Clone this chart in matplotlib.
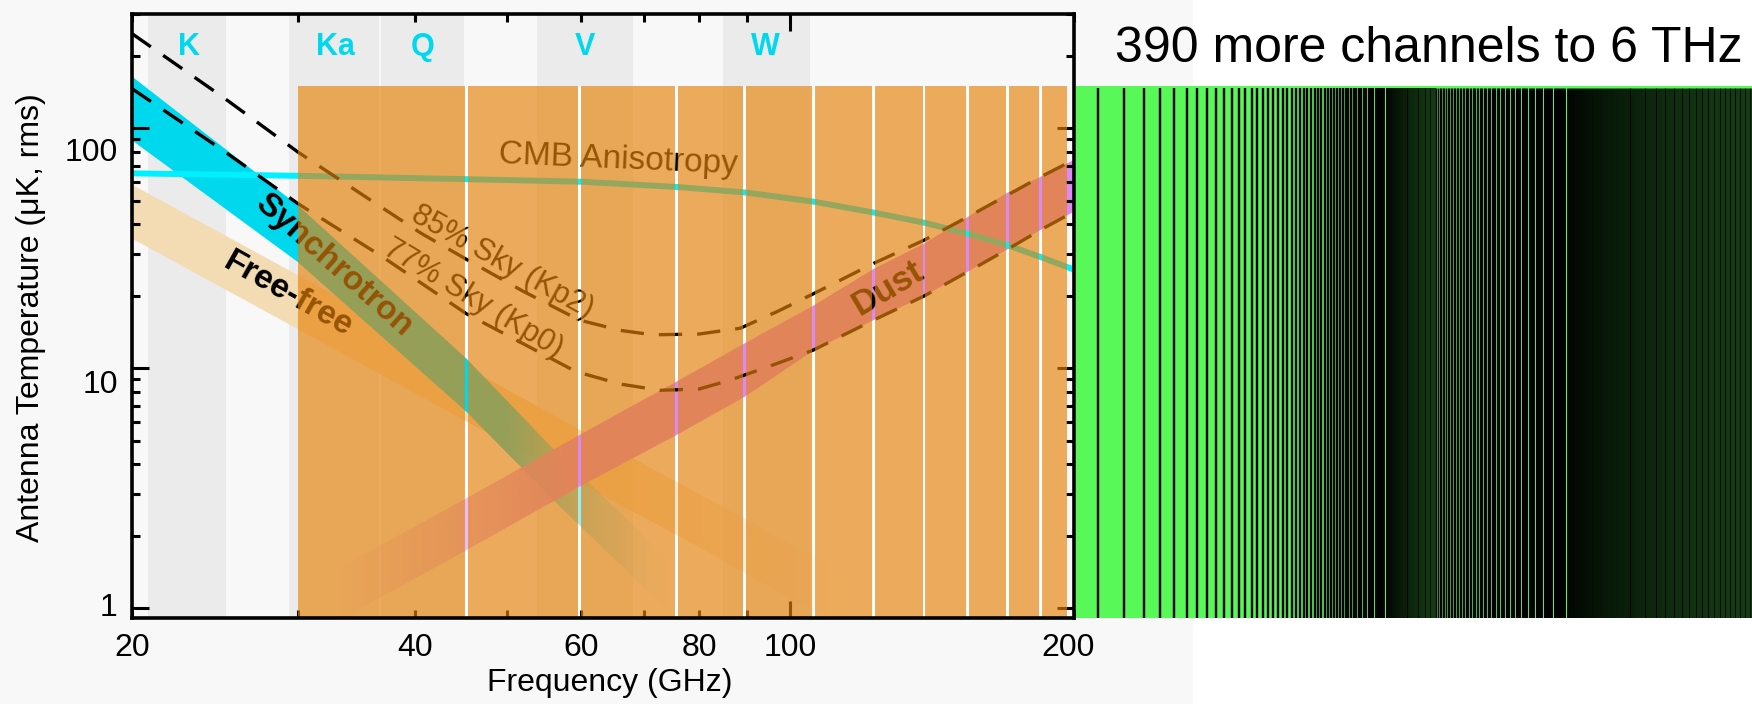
import numpy as np
import matplotlib
matplotlib.use("Agg")
import matplotlib.pyplot as plt
from matplotlib.patches import Polygon, Rectangle
from matplotlib.transforms import offset_copy
from matplotlib.ticker import LogLocator, NullFormatter
from matplotlib.colors import to_rgb

plt.rcParams['font.family'] = ['Liberation Sans', 'DejaVu Sans']

# ------------------------------------------------------------------ data
# WMAP bands (GHz)
band_names = ["K", "Ka", "Q", "V", "W"]
band_lo = [20.8, 29.4, 36.8, 53.9, 84.9]
band_hi = [25.2, 36.6, 45.1, 68.0, 104.9]
band_label_f = [23.0, 32.9, 40.7, 60.5, 94.1]
band_label_t = 219

# CMB anisotropy, antenna temperature (uK)
cmb_f = [20, 30, 45, 60, 76, 90, 106, 123, 139, 154, 170, 184, 200]
cmb_t = [65, 63.5, 61.5, 60, 57, 54, 49.5, 44.5, 40.4, 36.5, 32.6, 29.2, 25.8]

# foreground bands (upper / lower edge)
sync_f = [20, 30, 45.3, 56.7, 67.5, 78]
sync_hi = [165, 47.9, 11.0, 4.4, 2.3, 1.3]
sync_lo = [89.4, 27.8, 6.6, 2.7, 1.4, 0.8]

ff_f = [20, 30, 45, 60, 80, 100, 115]
ff_hi = [58.4, 24.5, 10.3, 5.5, 3.0, 1.85, 1.4]
ff_lo = [34.8, 14.6, 6.1, 3.3, 1.8, 1.1, 0.83]

dust_f = [33, 45, 59.7, 75.7, 89.4, 105.9, 122.6, 138.6, 154.3, 169.9, 184.2, 200]
dust_hi = [1.45, 2.83, 5.27, 8.8, 12.7, 18.3, 26.0, 33.1, 42.8, 53.9, 62.8, 74]
dust_lo = [0.88, 1.72, 3.21, 5.27, 7.6, 11.9, 15.9, 20.0, 25.3, 31.3, 37.7, 45]

# total foregrounds, sky cuts
kp2_f = [20, 25, 30, 35, 40.6, 45.3, 52, 59.7, 66, 71.4, 80, 88.5, 97, 105.9,
         122.6, 138.6, 154.3, 169.9, 184.4, 200]
kp2_t = [249, 135, 79.9, 53.5, 36.5, 28.5, 21.0, 15.9, 14.4, 13.8, 13.9, 14.7, 17.3, 20.5,
         27.4, 34.2, 42.8, 52.7, 62.9, 74]
kp0_f = [20, 25, 30, 36.9, 45.3, 52, 59.2, 66, 72.7, 80, 86.1, 95, 105.7,
         122.6, 138.6, 154.3, 169.9, 184.2, 200]
kp0_t = [146.8, 81, 48.7, 29.2, 16.9, 12.7, 9.7, 8.6, 8.1, 8.2, 8.9, 10.2, 11.9,
         15.9, 20.0, 25.3, 31.3, 37.7, 45]

# orange channel edges (GHz)
chan_edges = [30.0, 45.3, 59.7, 75.7, 89.4, 105.9, 122.6, 138.6, 154.3, 169.9, 184.4, 196.8]
chan_top = 150

# the extra channels up to 6 THz, 15 GHz wide
extra_first, extra_last, extra_step = 210, 6000, 15
extra_chan = np.arange(extra_first, extra_last + 1, extra_step)

xt_vals = [20, 40, 60, 80, 100, 200]
yt_vals = [1, 10, 100]

XLIM = (20, 200)
YLIM = (0.908, 300)

# colours
BG_GRAY = '#f8f8f8'
BAND_GRAY = '#ebebeb'
LABEL_CYAN = '#00d8f0'
CMB_CYAN = '#00f0ff'
SYNC_C = '#00d8ee'
DUST_C = '#d88cf2'
FF_C = '#f3dcb4'
ORANGE = '#e78108'
GREEN = '#58f858'

DPI = 100
fig = plt.figure(figsize=(17.52, 7.04), dpi=DPI, facecolor='white')
fig.add_artist(Rectangle((0, 0), 1193 / 1752, 1, transform=fig.transFigure,
                         facecolor=BG_GRAY, edgecolor='none', zorder=-10))

ax = fig.add_axes([0.07517, 0.12173, 0.53784, 0.85838])
ax.set_facecolor(BG_GRAY)
ax.set_xscale('log')
ax.set_yscale('log')


def faded_band(f, lo, hi, color, a_zero, a_one, z, power=1.0):
    """band polygon filled with a colour whose alpha ramps along frequency"""
    f = np.asarray(f, float)
    verts = np.column_stack([np.r_[f, f[::-1]], np.r_[hi, lo[::-1]]])
    poly = Polygon(verts, closed=True, fc='none', ec='none', transform=ax.transData)
    ax.add_patch(poly)
    n = 600
    cols = np.linspace(f[0], f[-1], n)
    t = (np.log(cols) - np.log(a_zero)) / (np.log(a_one) - np.log(a_zero))
    rgba = np.zeros((1, n, 4))
    rgba[..., :3] = to_rgb(color)
    rgba[..., 3] = np.clip(t, 0, 1) ** power
    im = ax.imshow(rgba, extent=(f[0], f[-1], min(lo), max(hi)), aspect='auto',
                   interpolation='bilinear', origin='lower', zorder=z)
    im.set_clip_path(poly)


# WMAP bands
for lo, hi in zip(band_lo, band_hi):
    ax.axvspan(lo, hi, color=BAND_GRAY, lw=0, zorder=0.5)
for name, f in zip(band_names, band_label_f):
    ax.text(f, band_label_t, name, color=LABEL_CYAN, fontsize=22, fontweight='bold',
            ha='center', va='center', zorder=2)

# white gaps between channels
ax.vlines(chan_edges[1:-1], YLIM[0], chan_top, color='white', lw=2.2, zorder=0.9)

faded_band(ff_f, ff_lo, ff_hi, FF_C, 115, 62, 1.0)
faded_band(sync_f, sync_lo, sync_hi, SYNC_C, 76, 50, 1.1, power=1.6)
faded_band(dust_f, dust_lo, dust_hi, DUST_C, 33, 58, 1.2)

ax.plot(cmb_f, cmb_t, color=CMB_CYAN, lw=4.3, zorder=1.5, solid_capstyle='butt')
ax.plot(kp2_f, kp2_t, color='black', lw=2.4, ls=(0, (7, 4.5)), zorder=1.6)
ax.plot(kp0_f, kp0_t, color='black', lw=2.4, ls=(0, (7, 4.5)), zorder=1.6)

kw = dict(ha='center', va='center', rotation_mode='anchor', zorder=2)
ax.text(65.7, 73.8, "CMB Anisotropy", rotation=-2.5, fontsize=24, **kw)
ax.text(49.5, 27.8, "85% Sky (Kp2)", rotation=-29, fontsize=22, **kw)
ax.text(46.1, 19.6, "77% Sky (Kp0)", rotation=-31, fontsize=22, **kw)
ax.text(32.8, 26.9, "Synchrotron", rotation=-41.5, fontsize=24, fontweight='bold', **kw)
ax.text(29.3, 20.3, "Free-free", rotation=-29.4, fontsize=24, fontweight='bold', **kw)
ax.text(126.8, 21.5, "Dust", rotation=30.7, fontsize=25, fontweight='bold', **kw)

ax.set_xlim(*XLIM)
ax.set_ylim(*YLIM)

# orange channels laid over everything, leaving thin gaps
ax_px = 0.53784 * 1752
g = 10 ** (1.4 * np.log10(XLIM[1] / XLIM[0]) / ax_px)
n_ch = len(chan_edges) - 1
for i in range(n_ch):
    lo = chan_edges[i] * (g if i > 0 else 1)
    hi = chan_edges[i + 1] / (g if i < n_ch - 1 else 1)
    ax.fill_between([lo, hi], YLIM[0], chan_top, color=ORANGE, alpha=0.65, lw=0, zorder=3)

# ticks
for axis in (ax.xaxis, ax.yaxis):
    axis.set_major_locator(LogLocator(base=10))
    axis.set_minor_locator(LogLocator(base=10, subs=np.arange(2, 10)))
    axis.set_major_formatter(NullFormatter())
    axis.set_minor_formatter(NullFormatter())
ax.tick_params(which='both', direction='in', top=True, right=True, width=2.2, color='black')
ax.tick_params(which='major', length=12.5)
ax.tick_params(which='minor', length=6)
for sp in ax.spines.values():
    sp.set_linewidth(2.6)
    sp.set_zorder(4)

for v in xt_vals:
    dx = -6 if v == 200 else 0
    tr = offset_copy(ax.get_xaxis_transform(), fig=fig, x=dx, y=-30, units='dots')
    ax.text(v, 0, str(v), transform=tr, ha='center', va='center', fontsize=23)
y_shift = {1: 0, 10: -17, 100: -25}
for v in yt_vals:
    tr = offset_copy(ax.get_yaxis_transform(), fig=fig, x=-14, y=y_shift[v], units='dots')
    ax.text(0, v, str(v), transform=tr, ha='right', va='center', fontsize=23)

ax.text(0.5076, -0.107, "Frequency (GHz)", transform=ax.transAxes, ha='center',
        va='center', fontsize=23)
ax.text(-0.1069, 0.497, "Antenna Temperature (\u03bcK, rms)", transform=ax.transAxes,
        ha='center', va='center', rotation=90, fontsize=23)

# ------------------------------------------------- the extra 390 channels
SC_C, SC_W, SC_LIN = 165.0, 45.0, 0.000199


def fwd(f):
    f = np.asarray(f, float)
    return np.log10(np.maximum(f - SC_C, 1e-3) / SC_W) + SC_LIN * (f - extra_first)


_grid = np.linspace(SC_C + 0.01, 20000, 200000)


def inv(u):
    return np.interp(u, fwd(_grid), _grid)


ax2 = fig.add_axes([1076 / 1752, 0.12173, 676 / 1752, 0.85838])
ax2.set_yscale('log')
ax2.set_xscale('function', functions=(fwd, inv))
ax2.set_xlim(200, extra_last)
ax2.set_ylim(*YLIM)
ax2.axis('off')
ax2.axhspan(YLIM[0], chan_top, color=GREEN, lw=0, zorder=1)

pos = ax2.transData.transform(np.column_stack([extra_chan, np.full(len(extra_chan), 10.0)]))[:, 0]
gaps = np.diff(pos)
spacing = np.minimum(np.r_[gaps, gaps[-1]], np.r_[gaps[0], gaps])
lw_px = np.minimum(2.4, 0.92 * spacing)
ax2.vlines(extra_chan, YLIM[0], 147, colors='black', linewidths=lw_px * 72 / DPI, zorder=2)

fig.text(1428.5 / 1752, 1 - 49 / 704, "390 more channels to 6 THz", fontsize=36,
         family=['Liberation Sans', 'DejaVu Sans'], ha='center', va='center')

fig.savefig("out.png", dpi=DPI)
